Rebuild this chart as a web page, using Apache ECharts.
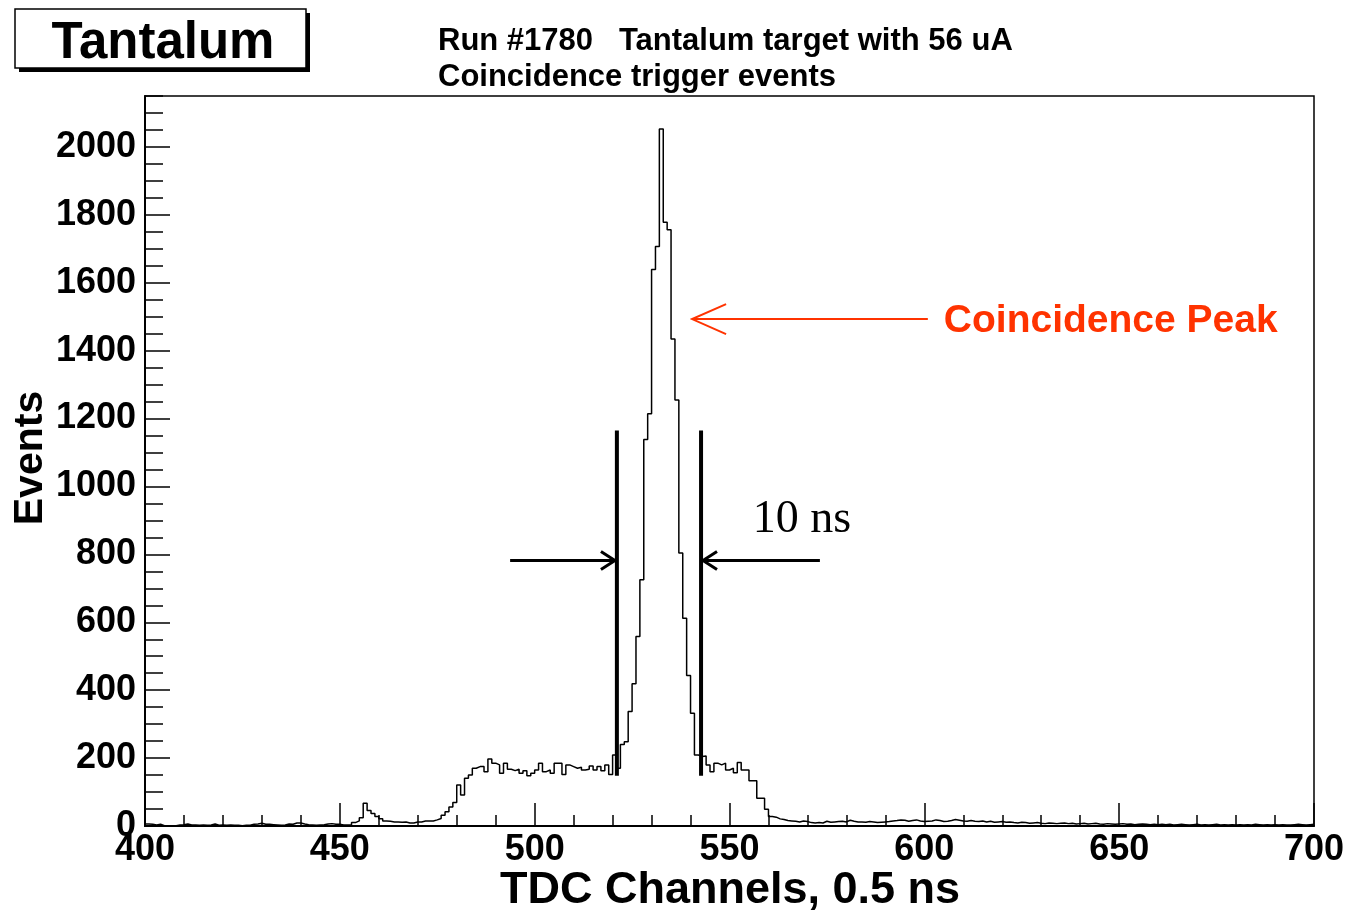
<!DOCTYPE html>
<html>
<head>
<meta charset="utf-8">
<title>Tantalum – TDC spectrum</title>
<script src="https://cdn.jsdelivr.net/npm/echarts@6/dist/echarts.min.js"></script>
<style>
  html, body { margin: 0; padding: 0; background: #fff; }
  #chart { width: 1349px; height: 912px; }
</style>
</head>
<body>
<div id="chart"></div>
<script>
// TDC histogram, one bin per channel starting at channel 400
const FIRST_CHANNEL = 400;

// channels 400-452: flat background
const leftTail = [6, 5, 3, 5, 1, 0, 1, 1, 3, 4, 6, 3, 3, 2, 3, 2, 3, 6, 2, 3,
                  2, 3, 2, 2, 1, 2, 2, 5, 6, 8, 5, 5, 4, 3, 2, 3, 6, 5, 9, 9,
                  6, 4, 3, 2, 3, 4, 6, 7, 5, 5, 3, 3, 4];
// channels 453-472: small satellite bump
const satelliteBump = [10, 15, 24, 67, 46, 37, 28, 21, 15, 14,
                       12, 12, 11, 12, 9, 9, 12, 12, 15, 15];
// channels 473-520: rising edge and accidental plateau
const leftShoulder = [15, 18, 22, 32, 42, 56, 69, 121, 91, 141,
                      150, 170, 175, 175, 160, 197, 185, 180, 155, 185,
                      167, 163, 167, 155, 163, 148, 155, 165, 185, 160,
                      165, 155, 185, 185, 152, 180, 175, 170, 173, 165,
                      167, 177, 165, 175, 163, 180, 152, 209];
// channels 521-541: coincidence peak
const coincidencePeak = [170, 240, 248, 337, 419, 558, 725, 1138, 1214, 1639,
                         1707, 2053, 1778, 1756, 1434, 1255, 804, 612, 443, 332, 209];
// channels 542-560: plateau after the peak
const rightShoulder = [205, 206, 180, 160, 185, 180, 185, 165, 170, 157,
                       187, 165, 165, 133, 133, 82, 82, 49, 28];
// channels 561-600: falling tail
const rightTail = [26, 21, 19, 16, 15, 14, 12, 15, 13, 10,
                   9, 10, 9, 14, 11, 12, 13, 14, 12, 17,
                   14, 12, 12, 11, 13, 12, 10, 11, 12, 13,
                   15, 16, 18, 17, 14, 16, 18, 15, 13, 14];
// channels 601-699: far background
const farTail = [15, 18, 16, 13, 14, 16, 19, 17, 15, 14,
                 16, 14, 13, 15, 12, 14, 11, 12, 13, 11,
                 12, 10, 9, 11, 10, 8, 9, 10, 8, 7,
                 9, 8, 7, 8, 9, 7, 8, 6, 7, 8,
                 6, 7, 8, 6, 5, 7, 6, 5, 6, 7,
                 5, 6, 4, 5, 6, 5, 4, 5, 4, 5,
                 4, 5, 3, 4, 5, 4, 3, 4, 5, 3,
                 4, 3, 4, 5, 3, 4, 3, 4, 3, 4,
                 3, 4, 3, 5, 4, 3, 4, 3, 4, 3,
                 4, 3, 3, 4, 5, 4, 3, 4, 5];

// axes
const xRange = [400, 700];
const xMajorStep = 50;
const yRange = [0, 2150];
const yMajorStep = 200;
const yMinorStep = 50;

// annotations, in channel / event units
const windowEdges = [521.1, 542.7];          // 10 ns window bars
const windowBarSpan = [148, 1165];
const windowArrowLevel = 782;
const windowArrows = [[493.7, 520.6], [573.2, 543.2]];  // [tail, tip]
const windowLabel = { text: '10 ns', at: [568.6, 900] };
const peakArrow = { tail: [600.9, 1493], tip: [540.4, 1493] };
const peakLabel = { text: 'Coincidence Peak', at: [605.0, 1487] };

const titleLines = ['Run #1780   Tantalum target with 56 uA', 'Coincidence trigger events'];
const boxLabel = 'Tantalum';
const xTitle = 'TDC Channels, 0.5 ns';
const yTitle = 'Events';

const SANS = '"Liberation Sans", Arial, Helvetica, sans-serif';
const SERIF = '"Liberation Serif", "Times New Roman", serif';
const RED = '#ff3300';

const counts = [].concat(leftTail, satelliteBump, leftShoulder, coincidencePeak,
                         rightShoulder, rightTail, farTail);
const histData = counts.map((v, i) => [FIRST_CHANNEL + i, v]);
histData.push([FIRST_CHANNEL + counts.length, counts[counts.length - 1]]);

function arrowHead(tip, dir, len, half) {
  return [[tip[0] - dir * len, tip[1] - half], [tip[0], tip[1]], [tip[0] - dir * len, tip[1] + half]];
}

function renderNotes(params, api) {
  const children = [];
  windowEdges.forEach(x => {
    const a = api.coord([x, windowBarSpan[0]]);
    const b = api.coord([x, windowBarSpan[1]]);
    children.push({ type: 'line', shape: { x1: a[0], y1: a[1], x2: b[0], y2: b[1] },
                    style: { stroke: '#000', lineWidth: 4 } });
  });
  windowArrows.forEach(([tailX, tipX]) => {
    const t = api.coord([tailX, windowArrowLevel]);
    const h = api.coord([tipX, windowArrowLevel]);
    const dir = h[0] > t[0] ? 1 : -1;
    children.push({ type: 'line', shape: { x1: t[0], y1: t[1], x2: h[0], y2: h[1] },
                    style: { stroke: '#000', lineWidth: 3 } });
    children.push({ type: 'polyline', shape: { points: arrowHead(h, dir, 14, 9) },
                    style: { stroke: '#000', lineWidth: 3, fill: null } });
  });
  const wl = api.coord(windowLabel.at);
  children.push({ type: 'text', style: { text: windowLabel.text, x: wl[0], y: wl[1],
                  font: '46px ' + SERIF, fill: '#000', textAlign: 'center', align: 'center',
                  textVerticalAlign: 'middle', verticalAlign: 'middle' } });

  const pt = api.coord(peakArrow.tail);
  const ph = api.coord(peakArrow.tip);
  const pdir = ph[0] > pt[0] ? 1 : -1;
  children.push({ type: 'line', shape: { x1: pt[0], y1: pt[1], x2: ph[0], y2: ph[1] },
                  style: { stroke: RED, lineWidth: 2 } });
  children.push({ type: 'polyline', shape: { points: arrowHead(ph, pdir, 34, 15) },
                  style: { stroke: RED, lineWidth: 2, fill: null } });
  const pl = api.coord(peakLabel.at);
  children.push({ type: 'text', style: { text: peakLabel.text, x: pl[0], y: pl[1],
                  font: 'bold 39px ' + SANS, fill: RED, textAlign: 'left', align: 'left',
                  textVerticalAlign: 'middle', verticalAlign: 'middle' } });
  return { type: 'group', children };
}

const tickLabel = { fontFamily: SANS, fontWeight: 'bold', fontSize: 36, color: '#000',
                    formatter: v => String(v) };

const chart = echarts.init(document.getElementById('chart'), null, { renderer: 'canvas' });
chart.setOption({
  animation: false,
  backgroundColor: '#fff',
  grid: { left: 145, right: 35, top: 96, bottom: 86, show: true,
          borderColor: '#000', borderWidth: 1.5, backgroundColor: 'transparent' },
  xAxis: {
    type: 'value', min: xRange[0], max: xRange[1], interval: xMajorStep,
    axisLine: { lineStyle: { color: '#000', width: 2 } },
    axisTick: { inside: true, length: 23, lineStyle: { color: '#000', width: 1.5 } },
    minorTick: { show: true, splitNumber: 5, length: 11, lineStyle: { color: '#000', width: 1.5 } },
    splitLine: { show: false },
    axisLabel: Object.assign({ margin: 6 }, tickLabel)
  },
  yAxis: [
    {
      type: 'value', min: yRange[0], max: yRange[1], interval: yMinorStep,
      axisLine: { show: true, lineStyle: { color: '#000', width: 2 } },
      axisTick: { inside: true, length: 18, lineStyle: { color: '#000', width: 1.5 } },
      axisLabel: { show: false },
      splitLine: { show: false }
    },
    {
      type: 'value', min: yRange[0], max: yRange[1], interval: yMajorStep, position: 'left',
      axisLine: { show: false },
      axisTick: { inside: true, length: 25, lineStyle: { color: '#000', width: 1.5 } },
      axisLabel: Object.assign({ margin: 9, showMaxLabel: false, padding: [7, 0, 0, 0] }, tickLabel),
      splitLine: { show: false }
    }
  ],
  series: [
    {
      type: 'line', step: 'end', data: histData, symbol: 'none', yAxisIndex: 0,
      lineStyle: { color: '#000', width: 1.5 }, silent: true
    },
    {
      type: 'custom', renderItem: renderNotes, data: [[xRange[0], yRange[0]]],
      yAxisIndex: 0, z: 10, silent: true, clip: false
    }
  ],
  graphic: [
    { type: 'rect', shape: { x: 19, y: 13, width: 291, height: 59 }, style: { fill: '#000' } },
    { type: 'rect', shape: { x: 15, y: 9, width: 291, height: 59 },
      style: { fill: '#fff', stroke: '#000', lineWidth: 1.5 } },
    { type: 'text', style: { text: boxLabel, x: 163, y: 44, font: 'bold 51px ' + SANS, fill: '#000',
      textAlign: 'center', align: 'center', textVerticalAlign: 'middle', verticalAlign: 'middle' } },
    { type: 'text', style: { text: titleLines[0], x: 438, y: 41, font: 'bold 31px ' + SANS, fill: '#000',
      textAlign: 'left', align: 'left', textVerticalAlign: 'middle', verticalAlign: 'middle' } },
    { type: 'text', style: { text: titleLines[1], x: 438, y: 77, font: 'bold 31px ' + SANS, fill: '#000',
      textAlign: 'left', align: 'left', textVerticalAlign: 'middle', verticalAlign: 'middle' } },
    { type: 'text', style: { text: xTitle, x: 730, y: 891, font: 'bold 45px ' + SANS, fill: '#000',
      textAlign: 'center', align: 'center', textVerticalAlign: 'middle', verticalAlign: 'middle' } },
    { type: 'text', rotation: Math.PI / 2, x: 31, y: 458,
      style: { text: yTitle, x: 0, y: 0, font: 'bold 41px ' + SANS, fill: '#000',
      textAlign: 'center', align: 'center', textVerticalAlign: 'middle', verticalAlign: 'middle' } }
  ]
});
</script>
</body>
</html>
